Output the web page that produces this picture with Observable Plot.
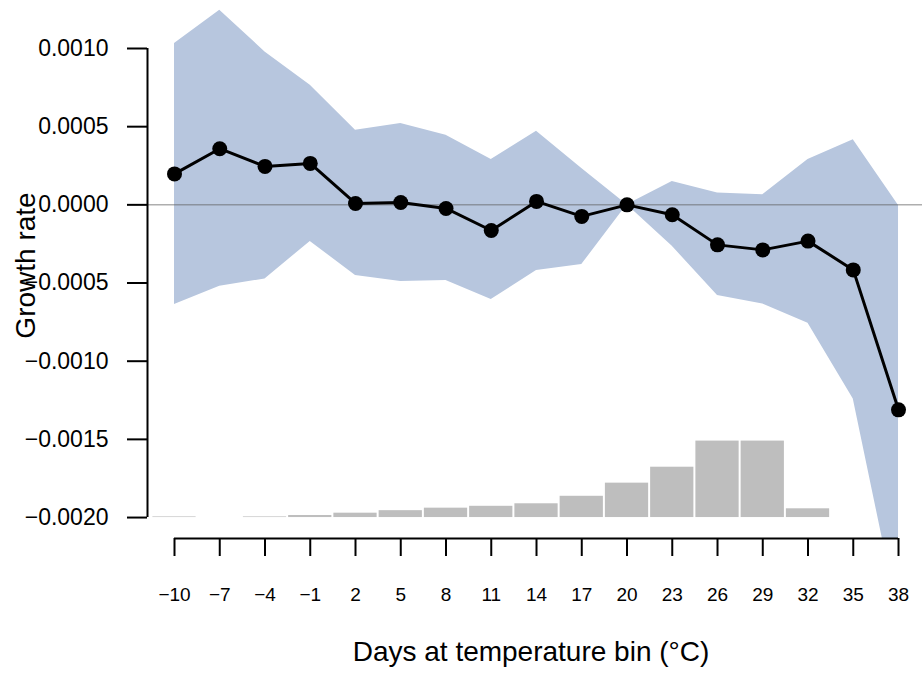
<!DOCTYPE html>
<html>
<head>
<meta charset="utf-8">
<script src="https://cdn.jsdelivr.net/npm/d3@7"></script>
<script src="https://cdn.jsdelivr.net/npm/@observablehq/plot@0.6"></script>
<style>
  html, body { margin: 0; padding: 0; background: #fff; }
  #chart { width: 922px; height: 673px; }
</style>
</head>
<body>
<div id="chart"></div>
<script>
// Temperature bins (°C)
const bins = [-10, -7, -4, -1, 2, 5, 8, 11, 14, 17, 20, 23, 26, 29, 32, 35, 38];
// Point estimate of growth rate
const growth = [0.000198, 0.000359, 0.000246, 0.000265, 0.000009, 0.000015, -0.000023, -0.000164,
                0.000022, -0.000074, 0.0, -0.0000635, -0.000256, -0.000288, -0.000232, -0.000416, -0.001311];
// Confidence band
const upper = [0.001032, 0.001245, 0.000978, 0.000765, 0.000477, 0.000521, 0.000445, 0.00029,
               0.00047, 0.000233, 0.0, 0.00015, 0.000075, 0.000065, 0.00029, 0.000417, -0.000004];
const lower = [-0.000638, -0.000521, -0.000474, -0.000234, -0.000452, -0.000491, -0.000484, -0.000606,
               -0.00042, -0.000382, 0.0, -0.000265, -0.00058, -0.000634, -0.000758, -0.001242, -0.00263];
// Days at each temperature bin (histogram)
const days = [0.4, 0, 0.4, 1.3, 2.8, 4.4, 6.0, 7.2, 8.8, 13.6, 22.0, 32.2, 48.9, 48.9, 5.6, 0, 0];
// Axis ticks and labels
const yTicks = [0.001, 0.0005, 0, -0.0005, -0.001, -0.0015, -0.002];
const xTitle = "Days at temperature bin (\u00B0C)";
const yTitle = "Growth rate";

// Configuration
const histBase = -0.002;      // histogram baseline (growth-rate units)
const histUnit = 0.00001;     // growth-rate units per day
const binHalf = 1.5;
const xDomain = [-11.79, 39.59];
const yDomain = [-0.002134, 0.001307];

const data = bins.map((b, i) => ({
  bin: b, growth: growth[i], upper: upper[i], lower: lower[i],
  x1: b - binHalf, x2: b + binHalf,
  h0: histBase, h1: histBase + days[i] * histUnit
}));

const font = "'Liberation Sans', Arial, Helvetica, sans-serif";

const plot = Plot.plot({
  width: 922,
  height: 673,
  marginLeft: 147,
  marginRight: 0,
  marginTop: 0,
  marginBottom: 135,
  style: { fontFamily: font, background: "#fff", color: "#000" },
  x: { type: "linear", domain: xDomain },
  y: { type: "linear", domain: yDomain },
  marks: [
    Plot.areaY(data, { x: "bin", y1: "lower", y2: "upper", fill: "#b7c6de", clip: true }),
    Plot.ruleY([0], { stroke: "#5d5d5d", strokeOpacity: 0.5, strokeWidth: 1.5 }),
    // white bar outlines (visible over the band for empty bins)
    Plot.rect(data, { x1: "x1", x2: "x2", y1: "h0", y2: "h1", fill: "none", stroke: "#fff", strokeWidth: 1, clip: true }),
    Plot.rect(data, { x1: "x1", x2: "x2", y1: "h0", y2: "h1", fill: "#bebebe", insetLeft: 1, insetRight: 1 }),
    Plot.line(data, { x: "bin", y: "growth", stroke: "#000", strokeWidth: 3 }),
    Plot.dot(data, { x: "bin", y: "growth", r: 7.5, fill: "#000" }),
    // axis lines
    Plot.ruleX([xDomain[0]], { y1: d3.min(yTicks), y2: d3.max(yTicks), stroke: "#000", strokeWidth: 2 }),
    Plot.ruleY([yDomain[0]], { x1: bins[0], x2: bins[bins.length - 1], stroke: "#000", strokeWidth: 2 }),
    Plot.axisY({ anchor: "left", ticks: yTicks, tickFormat: d3.format(".4f"), tickSize: 20, tickPadding: 19,
                 fontSize: 23, strokeWidth: 2, label: null }),
    Plot.axisX({ anchor: "bottom", ticks: bins, tickFormat: d => d3.format("d")(d), tickSize: 18, tickPadding: 31,
                 fontSize: 19, strokeWidth: 2, label: null }),
    Plot.text([xTitle], { frameAnchor: "bottom", dx: -4, dy: 122, lineAnchor: "bottom", fontSize: 28, fill: "#000" }),
    Plot.text([yTitle], { frameAnchor: "left", textAnchor: "middle", rotate: -90, dx: -113, dy: -4,
                          lineAnchor: "bottom", fontSize: 28, fill: "#000" })
  ]
});

document.getElementById("chart").appendChild(plot);
</script>
</body>
</html>
